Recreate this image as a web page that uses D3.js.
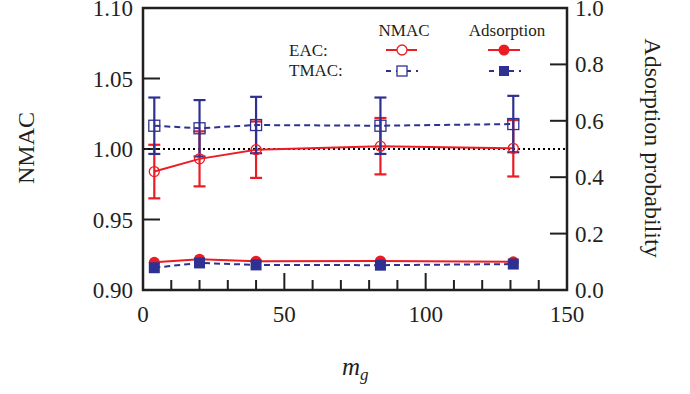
<!DOCTYPE html>
<html>
<head>
<meta charset="utf-8">
<script src="https://cdn.jsdelivr.net/npm/d3@7"></script>
<style>
  body { margin: 0; background: #fff; }
  text { font-family: "Liberation Serif", "Times New Roman", serif; fill: #231f20; }
</style>
</head>
<body>
<div id="chart"></div>
<script>
// data
var mg = [4, 20, 40, 84, 131];
var eacNmac = [0.984, 0.993, 0.9995, 1.002, 1.0005];
var eacNmacErr = [0.019, 0.0195, 0.020, 0.020, 0.020];
var tmacNmac = [1.0165, 1.0147, 1.017, 1.0165, 1.0177];
var tmacNmacErr = [0.020, 0.020, 0.020, 0.020, 0.020];
var eacAds = [0.098, 0.109, 0.102, 0.103, 0.100];
var tmacAds = [0.079, 0.096, 0.089, 0.088, 0.092];
var xTicks = [0, 50, 100, 150];
var yLeftTicks = [0.90, 0.95, 1.00, 1.05, 1.10];
var yRightTicks = [0.0, 0.2, 0.4, 0.6, 0.8, 1.0];

var width = 690;
var height = 394;
var red = "#ec1c24";
var blue = "#2e3192";

var svg = d3.select("#chart")
  .append("svg")
  .attr("width", width)
  .attr("height", height);

var pLeft = 143, pRight = 567, pTop = 8, pBottom = 290;

var xScale = d3.scaleLinear().domain([0, 150]).range([pLeft, pRight]);
var yScale = d3.scaleLinear().domain([0.90, 1.10]).range([pBottom, pTop]);
var y2Scale = d3.scaleLinear().domain([0, 1]).range([pBottom, pTop]);

// ticks (inward)
var xMinor = d3.range(10, 150, 10);
svg.append("g").selectAll("line").data(xMinor).enter()
  .append("line")
  .attr("x1", function(d) { return xScale(d); })
  .attr("x2", function(d) { return xScale(d); })
  .attr("y1", pBottom)
  .attr("y2", function(d) { return d % 50 === 0 ? pBottom - 17 : pBottom - 10; })
  .attr("stroke", "#231f20")
  .attr("stroke-width", 2);

svg.append("g").selectAll("line").data([0.95, 1.00, 1.05]).enter()
  .append("line")
  .attr("x1", pLeft)
  .attr("x2", pLeft + 17)
  .attr("y1", function(d) { return yScale(d); })
  .attr("y2", function(d) { return yScale(d); })
  .attr("stroke", "#231f20")
  .attr("stroke-width", 2);

svg.append("g").selectAll("line").data([0.2, 0.4, 0.6, 0.8]).enter()
  .append("line")
  .attr("x1", pRight - 17)
  .attr("x2", pRight)
  .attr("y1", function(d) { return y2Scale(d); })
  .attr("y2", function(d) { return y2Scale(d); })
  .attr("stroke", "#231f20")
  .attr("stroke-width", 2);

// tick labels
svg.append("g").selectAll("text").data(xTicks).enter()
  .append("text")
  .attr("x", function(d) { return xScale(d); })
  .attr("y", 322)
  .attr("text-anchor", "middle")
  .attr("font-size", 23)
  .text(function(d) { return d; });

svg.append("g").selectAll("text").data(yLeftTicks).enter()
  .append("text")
  .attr("x", 133)
  .attr("y", function(d) { return yScale(d) + 8; })
  .attr("text-anchor", "end")
  .attr("font-size", 23)
  .text(function(d) { return d.toFixed(2); });

svg.append("g").selectAll("text").data(yRightTicks).enter()
  .append("text")
  .attr("x", 575)
  .attr("y", function(d) { return y2Scale(d) + 8; })
  .attr("text-anchor", "start")
  .attr("font-size", 23)
  .text(function(d) { return d.toFixed(1); });

// axis titles
svg.append("text")
  .attr("transform", "translate(34,148)rotate(-90)")
  .attr("text-anchor", "middle")
  .attr("font-size", 24)
  .text("NMAC");

svg.append("text")
  .attr("transform", "translate(645,148)rotate(90)")
  .attr("text-anchor", "middle")
  .attr("font-size", 24)
  .text("Adsorption probability");

var xl = svg.append("text")
  .attr("x", 342)
  .attr("y", 375)
  .attr("font-size", 25)
  .attr("font-style", "italic");
xl.append("tspan").text("m");
xl.append("tspan").attr("font-size", 17).attr("dy", 5).text("g");

// reference line at NMAC = 1
svg.append("line")
  .attr("x1", pLeft)
  .attr("x2", pRight)
  .attr("y1", yScale(1))
  .attr("y2", yScale(1))
  .attr("stroke", "#000")
  .attr("stroke-width", 2)
  .attr("stroke-dasharray", "2,3");

var pts = function(vals, scale) {
  return mg.map(function(m, i) { return [xScale(m), scale(vals[i])]; });
};

function errorBars(vals, errs, color) {
  var g = svg.append("g").attr("stroke", color).attr("stroke-width", 2.2);
  mg.forEach(function(m, i) {
    var x = xScale(m);
    var y1 = yScale(vals[i] - errs[i]);
    var y2 = yScale(vals[i] + errs[i]);
    g.append("line").attr("x1", x).attr("x2", x).attr("y1", y1).attr("y2", y2);
    g.append("line").attr("x1", x - 6).attr("x2", x + 6).attr("y1", y1).attr("y2", y1);
    g.append("line").attr("x1", x - 6).attr("x2", x + 6).attr("y1", y2).attr("y2", y2);
  });
}

var line = d3.line();

// EAC NMAC
errorBars(eacNmac, eacNmacErr, red);
svg.append("path")
  .attr("d", line(pts(eacNmac, yScale)))
  .attr("fill", "none")
  .attr("stroke", red)
  .attr("stroke-width", 2);

// TMAC NMAC
errorBars(tmacNmac, tmacNmacErr, blue);
svg.append("path")
  .attr("d", line(pts(tmacNmac, yScale)))
  .attr("fill", "none")
  .attr("stroke", blue)
  .attr("stroke-width", 2)
  .attr("stroke-dasharray", "6,4");

svg.append("g").selectAll("circle").data(pts(eacNmac, yScale)).enter()
  .append("circle")
  .attr("cx", function(d) { return d[0]; })
  .attr("cy", function(d) { return d[1]; })
  .attr("r", 5)
  .attr("fill", "none")
  .attr("stroke", red)
  .attr("stroke-width", 1.3);

svg.append("g").selectAll("rect").data(pts(tmacNmac, yScale)).enter()
  .append("rect")
  .attr("x", function(d) { return d[0] - 5.5; })
  .attr("y", function(d) { return d[1] - 5.5; })
  .attr("width", 11)
  .attr("height", 11)
  .attr("fill", "none")
  .attr("stroke", blue)
  .attr("stroke-width", 1.3);

// adsorption
svg.append("path")
  .attr("d", line(pts(eacAds, y2Scale)))
  .attr("fill", "none")
  .attr("stroke", red)
  .attr("stroke-width", 2);
svg.append("g").selectAll("circle").data(pts(eacAds, y2Scale)).enter()
  .append("circle")
  .attr("cx", function(d) { return d[0]; })
  .attr("cy", function(d) { return d[1]; })
  .attr("r", 5.5)
  .attr("fill", red);

svg.append("path")
  .attr("d", line(pts(tmacAds, y2Scale)))
  .attr("fill", "none")
  .attr("stroke", blue)
  .attr("stroke-width", 2)
  .attr("stroke-dasharray", "6,4");
svg.append("g").selectAll("rect").data(pts(tmacAds, y2Scale)).enter()
  .append("rect")
  .attr("x", function(d) { return d[0] - 5.5; })
  .attr("y", function(d) { return d[1] - 5.5; })
  .attr("width", 11)
  .attr("height", 11)
  .attr("fill", blue);

// frame
svg.append("rect")
  .attr("x", pLeft)
  .attr("y", pTop)
  .attr("width", pRight - pLeft)
  .attr("height", pBottom - pTop)
  .attr("fill", "none")
  .attr("stroke", "#231f20")
  .attr("stroke-width", 2.5);

// legend
var lg = svg.append("g");
lg.append("text").attr("x", 404).attr("y", 36).attr("text-anchor", "middle")
  .attr("font-size", 17).text("NMAC");
lg.append("text").attr("x", 507).attr("y", 36).attr("text-anchor", "middle")
  .attr("font-size", 17).text("Adsorption");
lg.append("text").attr("x", 289).attr("y", 56).attr("font-size", 17).text("EAC:");
lg.append("text").attr("x", 289).attr("y", 76).attr("font-size", 17).text("TMAC:");

lg.append("line").attr("x1", 386).attr("x2", 417).attr("y1", 50).attr("y2", 50)
  .attr("stroke", red).attr("stroke-width", 2);
lg.append("circle").attr("cx", 402).attr("cy", 50).attr("r", 5)
  .attr("fill", "#fff").attr("stroke", red).attr("stroke-width", 1.3);
lg.append("line").attr("x1", 488).attr("x2", 520).attr("y1", 50).attr("y2", 50)
  .attr("stroke", red).attr("stroke-width", 2);
lg.append("circle").attr("cx", 504).attr("cy", 50).attr("r", 5.5).attr("fill", red);

lg.append("line").attr("x1", 386).attr("x2", 418).attr("y1", 71).attr("y2", 71)
  .attr("stroke", blue).attr("stroke-width", 2).attr("stroke-dasharray", "5,5");
lg.append("rect").attr("x", 397).attr("y", 66).attr("width", 10).attr("height", 10)
  .attr("fill", "#fff").attr("stroke", blue).attr("stroke-width", 1.3);
lg.append("line").attr("x1", 489).attr("x2", 521).attr("y1", 71).attr("y2", 71)
  .attr("stroke", blue).attr("stroke-width", 2).attr("stroke-dasharray", "5,5");
lg.append("rect").attr("x", 499).attr("y", 66).attr("width", 10).attr("height", 10)
  .attr("fill", blue);
</script>
</body>
</html>
